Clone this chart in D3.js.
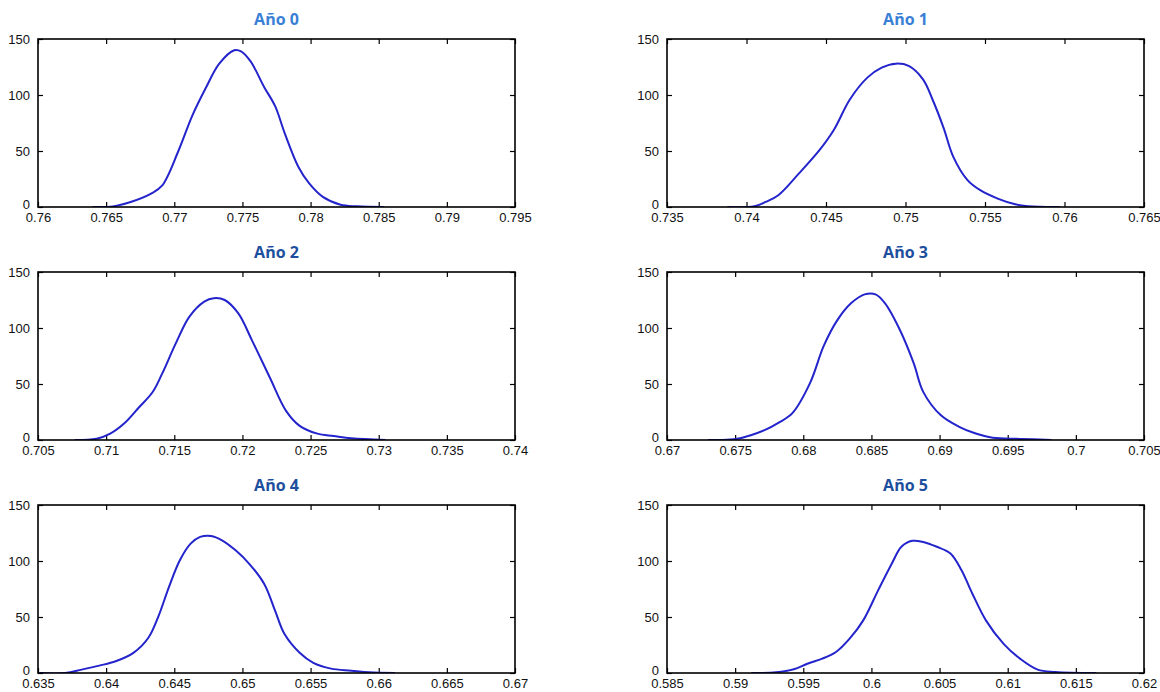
<!DOCTYPE html>
<html>
<head>
<meta charset="utf-8">
<script src="https://cdn.jsdelivr.net/npm/d3@7"></script>
<style>
  html, body { margin: 0; padding: 0; background: #fff; }
  svg { display: block; }
  .tick text { font-family: "Liberation Sans", Arial, sans-serif; font-size: 13px; fill: #111; }
  .title { font-family: "Open Sans", "Noto Sans", sans-serif; font-weight: 700; font-size: 16px; }
</style>
</head>
<body>
<svg id="chart" width="1160" height="692"></svg>
<script>
// Panel titles
const titles = ["Año 0", "Año 1", "Año 2", "Año 3", "Año 4", "Año 5"];

// x-axis domains and tick values per panel
const xDomains = [
  [0.76, 0.795], [0.735, 0.765], [0.705, 0.74],
  [0.67, 0.705], [0.635, 0.67], [0.585, 0.62]
];
const xTickLabels = [
  ["0.76", "0.765", "0.77", "0.775", "0.78", "0.785", "0.79", "0.795"],
  ["0.735", "0.74", "0.745", "0.75", "0.755", "0.76", "0.765"],
  ["0.705", "0.71", "0.715", "0.72", "0.725", "0.73", "0.735", "0.74"],
  ["0.67", "0.675", "0.68", "0.685", "0.69", "0.695", "0.7", "0.705"],
  ["0.635", "0.64", "0.645", "0.65", "0.655", "0.66", "0.665", "0.67"],
  ["0.585", "0.59", "0.595", "0.6", "0.605", "0.61", "0.615", "0.62"]
];
const yTickLabels = ["0", "50", "100", "150"];

// Density curves (value, density)
const year0X = [0.7640, 0.7655, 0.7668, 0.7683, 0.7691, 0.7703, 0.7713, 0.7723, 0.7733, 0.7744, 0.7749, 0.7756, 0.7766, 0.7774, 0.7781, 0.7791, 0.7799, 0.7809, 0.7822, 0.7834, 0.7854];
const year0Y = [0, 0.5, 4.5, 12, 19, 50, 81, 106, 128, 140, 139, 130, 107, 90, 66, 36, 21, 9, 2, 0.6, 0];

const year1X = [0.7388, 0.7405, 0.7412, 0.7420, 0.7433, 0.7446, 0.7455, 0.7465, 0.7476, 0.7485, 0.7494, 0.7502, 0.7511, 0.7517, 0.7524, 0.7530, 0.7539, 0.7547, 0.7558, 0.7569, 0.7577, 0.7597];
const year1Y = [0, 0.6, 4.5, 10.5, 30, 51, 69, 96, 115.5, 124.5, 128, 126, 114, 96, 70.5, 45, 24, 15, 7.5, 2.4, 0.6, 0];

const year2X = [0.7077, 0.7093, 0.7103, 0.7114, 0.7124, 0.7134, 0.7141, 0.7151, 0.7161, 0.7172, 0.7179, 0.7187, 0.7197, 0.7207, 0.7220, 0.7232, 0.7242, 0.7255, 0.7267, 0.7280, 0.7305];
const year2Y = [0, 1.2, 5.7, 15.6, 29, 42.6, 59, 86, 110, 123.6, 126.6, 125, 113, 89, 56, 26, 12.6, 5.7, 3.6, 1.5, 0];

const year3X = [0.6730, 0.6749, 0.6762, 0.6772, 0.6782, 0.6792, 0.6805, 0.6815, 0.6825, 0.6835, 0.6845, 0.6853, 0.6860, 0.6871, 0.6881, 0.6888, 0.6901, 0.6914, 0.6926, 0.6939, 0.6959, 0.6982];
const year3Y = [0, 0.6, 4.5, 9, 15.5, 24, 51, 84, 107, 122, 130, 130, 122, 98, 68.6, 43, 22, 12, 6, 2, 1, 0];

const year4X = [0.6351, 0.6370, 0.6382, 0.6395, 0.6407, 0.6420, 0.6431, 0.6438, 0.6446, 0.6454, 0.6462, 0.6469, 0.6477, 0.6485, 0.6495, 0.6505, 0.6516, 0.6524, 0.6531, 0.6542, 0.6552, 0.6565, 0.6580, 0.6593, 0.6612];
const year4Y = [0, 0, 3, 6.6, 10.5, 18, 31.5, 49.5, 76.5, 100.5, 115.5, 121.5, 122.4, 118.5, 109.5, 97.5, 79.5, 55.5, 34.5, 18, 9, 3.9, 2.1, 0.6, 0];

const year5X = [0.5912, 0.5930, 0.5943, 0.5953, 0.5964, 0.5974, 0.5984, 0.5994, 0.6005, 0.6015, 0.6022, 0.6030, 0.6038, 0.6048, 0.6058, 0.6066, 0.6074, 0.6084, 0.6097, 0.6109, 0.6122, 0.6135, 0.6165];
const year5Y = [0, 0.6, 3.3, 8.3, 12.8, 18.8, 30.7, 47, 74, 97.8, 112.7, 118, 117, 112.7, 106.7, 91.9, 71, 47, 26, 12.8, 3, 0.9, 0];

const seriesX = [year0X, year1X, year2X, year3X, year4X, year5X];
const seriesY = [year0Y, year1Y, year2Y, year3Y, year4Y, year5Y];

// Grid geometry
const colLeft = [38, 667];
const plotW = 477;
const rowTop = [39, 272, 505];
const plotH = 168;
const titleColors = ["#3a7fd6", "#3a7fd6", "#1d4f9e", "#1d4f9e", "#1d4f9e", "#1d4f9e"];

const svg = d3.select("#chart");

titles.forEach((title, i) => {
  const col = i % 2, row = Math.floor(i / 2);
  const left = colLeft[col], top = rowTop[row];
  const g = svg.append("g").attr("transform", `translate(${left},${top})`);

  const x = d3.scaleLinear().domain(xDomains[i]).range([0, plotW]);
  const y = d3.scaleLinear().domain([0, 150]).range([plotH, 0]);
  const xt = xTickLabels[i].map(Number);
  const yt = yTickLabels.map(Number);

  // bottom axis with labels, inward ticks
  g.append("g").attr("transform", `translate(0,${plotH})`)
    .call(d3.axisBottom(x).tickValues(xt).tickSizeInner(-5).tickSizeOuter(0)
      .tickFormat((d, k) => xTickLabels[i][k]).tickPadding(6))
    .call(a => a.select(".domain").remove());
  // top axis, ticks only
  g.append("g")
    .call(d3.axisTop(x).tickValues(xt).tickSizeInner(-5).tickSizeOuter(0).tickFormat(""))
    .call(a => a.select(".domain").remove());
  // left axis with labels
  g.append("g")
    .call(d3.axisLeft(y).tickValues(yt).tickSizeInner(-5).tickSizeOuter(0)
      .tickFormat((d, k) => yTickLabels[k]).tickPadding(8))
    .call(a => a.select(".domain").remove())
    .call(a => a.selectAll(".tick text").filter(d => d === 0).attr("dy", "0.1em"));
  // right axis, ticks only
  g.append("g").attr("transform", `translate(${plotW},0)`)
    .call(d3.axisRight(y).tickValues(yt).tickSizeInner(-5).tickSizeOuter(0).tickFormat(""))
    .call(a => a.select(".domain").remove());

  g.selectAll(".tick line").attr("stroke", "#000").attr("stroke-width", 1.2);

  // clip so the curve stays inside the frame
  const clipId = `clip-${i}`;
  g.append("clipPath").attr("id", clipId)
    .append("rect").attr("width", plotW).attr("height", plotH);

  // density curve
  const pts = seriesX[i].map((v, k) => [v, seriesY[i][k]]);
  const line = d3.line().x(d => x(d[0])).y(d => y(Math.max(0, d[1])))
    .curve(d3.curveCatmullRom.alpha(0.5));
  g.append("path").datum(pts).attr("d", line)
    .attr("clip-path", `url(#${clipId})`)
    .attr("fill", "none").attr("stroke", "#2424cc").attr("stroke-width", 2)
    .attr("stroke-linejoin", "round");

  // frame
  g.append("rect").attr("x", 0).attr("y", 0).attr("width", plotW).attr("height", plotH)
    .attr("fill", "none").attr("stroke", "#000").attr("stroke-width", 1.6);

  // title
  svg.append("text").attr("class", "title")
    .attr("x", left + plotW / 2).attr("y", top - 14)
    .attr("text-anchor", "middle").attr("fill", titleColors[i])
    .text(title);
});
</script>
</body>
</html>
